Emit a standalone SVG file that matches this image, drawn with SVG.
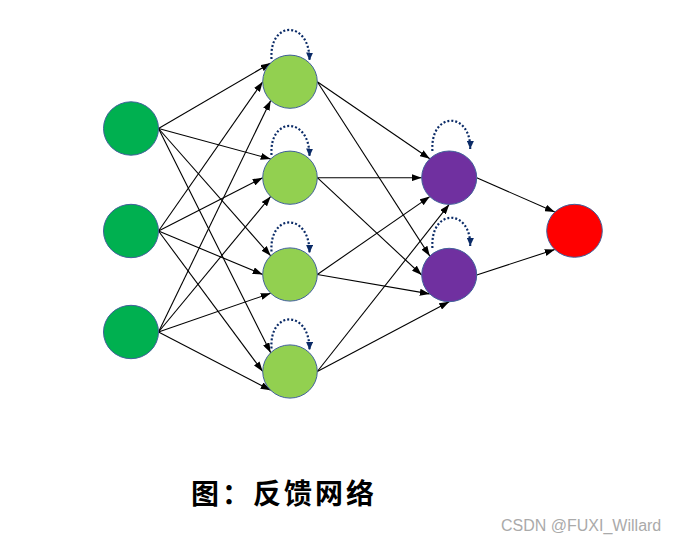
<svg xmlns="http://www.w3.org/2000/svg" width="677" height="542" viewBox="0 0 677 542">
<style>
.n{stroke:#41609A;stroke-width:1}
.in{fill:#00B050}
.h{fill:#92D050}
.p{fill:#7030A0}
.o{fill:#FF0000}
.e{stroke:#000;stroke-width:1.1;fill:none;marker-end:url(#ah)}
.loop{stroke:#0A2A66;stroke-width:2.2;stroke-dasharray:2 2;fill:none;marker-end:url(#lh)}
.t{font-family:"Noto Sans CJK SC","Liberation Sans",sans-serif;font-weight:bold;font-size:28px;letter-spacing:3px;fill:#000}
.w{font-family:"Liberation Sans",Arial,sans-serif;font-size:16px;fill:#aaaaaa}
</style>
<defs>
<marker id="ah" markerUnits="userSpaceOnUse" markerWidth="10" markerHeight="7" refX="10" refY="3.5" orient="auto"><path d="M0,0 L10,3.5 L0,7 z" fill="#000"/></marker>
<marker id="lh" markerUnits="userSpaceOnUse" markerWidth="8" markerHeight="7" refX="8" refY="3.5" orient="auto"><path d="M0,0 L8,3.5 L0,7 z" fill="#0A2A66"/></marker>
</defs>
<rect width="677" height="542" fill="#fff"/>
<g id="connectors">
<line class="e" x1="158.5" y1="128.5" x2="270.7" y2="63"/>
<line class="e" x1="158.5" y1="128.5" x2="270.7" y2="159"/>
<line class="e" x1="158.5" y1="128.5" x2="270.7" y2="255.8"/>
<line class="e" x1="158.5" y1="128.5" x2="270.7" y2="352.8"/>
<line class="e" x1="158.5" y1="231" x2="262.7" y2="81.7"/>
<line class="e" x1="158.5" y1="231" x2="262.7" y2="177.7"/>
<line class="e" x1="158.5" y1="231" x2="262.7" y2="274.5"/>
<line class="e" x1="158.5" y1="231" x2="262.7" y2="371.5"/>
<line class="e" x1="158.5" y1="332" x2="270.7" y2="100.4"/>
<line class="e" x1="158.5" y1="332" x2="270.7" y2="196.4"/>
<line class="e" x1="158.5" y1="332" x2="270.7" y2="293.2"/>
<line class="e" x1="158.5" y1="332" x2="270.7" y2="390.2"/>
<line class="e" x1="317.3" y1="81.7" x2="429.8" y2="158.8"/>
<line class="e" x1="317.3" y1="177.7" x2="421.7" y2="177.7"/>
<line class="e" x1="317.3" y1="274.5" x2="429.8" y2="196.6"/>
<line class="e" x1="317.3" y1="371.5" x2="449.2" y2="204.4"/>
<line class="e" x1="317.3" y1="81.7" x2="429.8" y2="256.1"/>
<line class="e" x1="317.3" y1="177.7" x2="421.7" y2="275"/>
<line class="e" x1="317.3" y1="274.5" x2="429.8" y2="293.9"/>
<line class="e" x1="317.3" y1="371.5" x2="449.2" y2="301.7"/>
<line class="e" x1="476.7" y1="177.7" x2="554.8" y2="212.1"/>
<line class="e" x1="476.7" y1="275" x2="554.8" y2="249.5"/>
<path class="loop" d="M271.5,59 C269,20 310,20 309.5,60.5"/>
<path class="loop" d="M271.5,155 C269,116 310,116 309.5,156.5"/>
<path class="loop" d="M271.5,251.5 C269,212.5 310,212.5 309.5,253"/>
<path class="loop" d="M271.5,348.5 C269,309.5 310,309.5 309.5,350"/>
<path class="loop" d="M432.4,151 C430,111 471,111 470.2,149"/>
<path class="loop" d="M432.4,248 C430,208 471,208 470.2,246"/>
</g>
<g id="input1"><ellipse class="n in" cx="131" cy="128.5" rx="27.5" ry="26.7"/></g>
<g id="input2"><ellipse class="n in" cx="131" cy="231" rx="27.5" ry="26.7"/></g>
<g id="input3"><ellipse class="n in" cx="131" cy="332" rx="27.5" ry="26.7"/></g>
<g id="hidden1"><ellipse class="n h" cx="290" cy="81.7" rx="27.3" ry="26.6"/></g>
<g id="hidden2"><ellipse class="n h" cx="290" cy="177.7" rx="27.3" ry="26.6"/></g>
<g id="hidden3"><ellipse class="n h" cx="290" cy="274.5" rx="27.3" ry="26.6"/></g>
<g id="hidden4"><ellipse class="n h" cx="290" cy="371.5" rx="27.3" ry="26.6"/></g>
<g id="hidden5"><ellipse class="n p" cx="449.2" cy="177.7" rx="27.5" ry="26.7"/></g>
<g id="hidden6"><ellipse class="n p" cx="449.2" cy="275" rx="27.5" ry="26.7"/></g>
<g id="output"><ellipse class="n o" cx="574.5" cy="230.8" rx="27.8" ry="26.5"/></g>
<text class="t" x="191" y="504">图：反馈网络</text>
<text class="w" x="501" y="531">CSDN @FUXI_Willard</text>
</svg>
